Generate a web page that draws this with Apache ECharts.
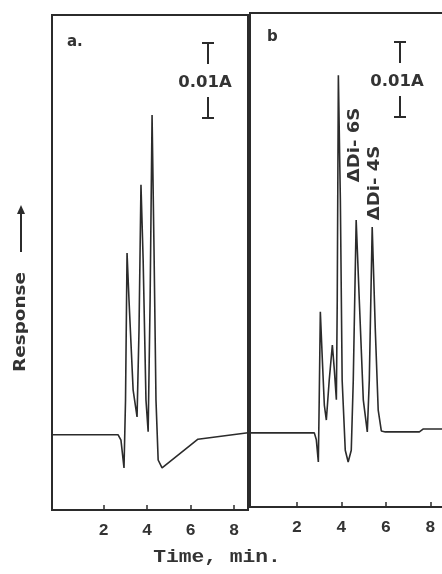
<!DOCTYPE html>
<html>
<head>
<meta charset="utf-8">
<script src="https://cdn.jsdelivr.net/npm/echarts@6/dist/echarts.min.js"></script>
<style>
  html, body { margin: 0; padding: 0; background: #fff; }
  #main { width: 442px; height: 574px; }
</style>
</head>
<body>
<div id="main"></div>
<script>
// trace a: time (min), response (arbitrary, 0-100 of panel height)
var timeA = [-0.37, 2.67, 2.80, 2.94, 3.01, 3.08, 3.17, 3.36, 3.54, 3.63, 3.72, 3.82, 3.95, 4.05, 4.14, 4.23, 4.32, 4.41, 4.51, 4.69, 6.34, 8.64];
var respA = [15.2, 15.2, 14.1, 8.5, 22.2, 51.9, 42.4, 24.2, 18.8, 36.4, 65.7, 50.5, 22.2, 15.8, 42.4, 79.8, 52.5, 22.2, 10.1, 8.5, 14.3, 15.6];

// trace b
var timeB = [-0.1, 2.79, 2.88, 2.97, 3.01, 3.06, 3.15, 3.24, 3.33, 3.46, 3.60, 3.69, 3.78, 3.82, 3.87, 3.96, 4.04, 4.18, 4.31, 4.45, 4.54, 4.67, 4.81, 4.99, 5.17, 5.26, 5.39, 5.53, 5.66, 5.80, 5.98, 7.51, 7.69, 8.9];
var respB = [15.0, 15.0, 13.6, 9.1, 21.7, 39.5, 29.8, 20.6, 17.6, 25.7, 32.8, 27.7, 21.7, 41.9, 87.4, 62.1, 25.7, 11.5, 9.1, 11.5, 25.7, 58.1, 41.9, 21.7, 15.2, 25.7, 56.7, 35.8, 19.6, 15.4, 15.2, 15.2, 15.8, 15.8];

var tickValues = [2, 4, 6, 8];

function pairs(xs, ys) {
  return xs.map(function (x, i) { return [x, ys[i]]; });
}

var ink = "#2b2b2b";
var myChart = echarts.init(document.getElementById("main"));

function xAxisFor(idx, min, max) {
  return {
    type: "value",
    gridIndex: idx,
    min: min,
    max: max,
    axisLine: { show: false },
    splitLine: { show: false },
    axisTick: {
      show: true,
      inside: true,
      length: 5,
      customValues: tickValues,
      lineStyle: { color: ink, width: 1.5 }
    },
    axisLabel: {
      customValues: tickValues,
      margin: 12,
      color: "#333",
      fontFamily: "Liberation Mono",
      fontWeight: "bold",
      fontSize: 17
    }
  };
}

function yAxisFor(idx) {
  return {
    type: "value",
    gridIndex: idx,
    min: 0,
    max: 100,
    axisLine: { show: false },
    axisTick: { show: false },
    axisLabel: { show: false },
    splitLine: { show: false }
  };
}

function bar(x, yTop, yBot) {
  // scale bar "0.01A": T on top, inverted T below
  return [
    { type: "line", shape: { x1: x - 6, y1: yTop, x2: x + 6, y2: yTop }, style: { stroke: ink, lineWidth: 2 } },
    { type: "line", shape: { x1: x, y1: yTop, x2: x, y2: yTop + 21 }, style: { stroke: ink, lineWidth: 2 } },
    { type: "line", shape: { x1: x, y1: yBot - 21, x2: x, y2: yBot }, style: { stroke: ink, lineWidth: 2 } },
    { type: "line", shape: { x1: x - 6, y1: yBot, x2: x + 6, y2: yBot }, style: { stroke: ink, lineWidth: 2 } }
  ];
}

var labelFont = { fill: "#333", fontFamily: "DejaVu Sans", fontWeight: "bold" };

var graphics = [].concat(
  bar(208, 43, 118),
  bar(400, 42, 117),
  [
    { type: "text", x: 205, y: 83, scaleX: 1.1, style: Object.assign({ text: "0.01A", fontSize: 15, align: "center", verticalAlign: "middle" }, labelFont) },
    { type: "text", x: 397, y: 82, scaleX: 1.1, style: Object.assign({ text: "0.01A", fontSize: 15, align: "center", verticalAlign: "middle" }, labelFont) },
    { type: "text", x: 67, y: 42, style: Object.assign({ text: "a.", fontSize: 15, verticalAlign: "middle" }, labelFont) },
    { type: "text", x: 267, y: 37, style: Object.assign({ text: "b", fontSize: 15, verticalAlign: "middle" }, labelFont) },
    { type: "text", x: 355, y: 145, rotation: Math.PI / 2, scaleX: 1.2, style: Object.assign({ text: "ΔDi- 6S", fontSize: 15, align: "center", verticalAlign: "middle" }, labelFont) },
    { type: "text", x: 375, y: 183, rotation: Math.PI / 2, scaleX: 1.2, style: Object.assign({ text: "ΔDi- 4S", fontSize: 15, align: "center", verticalAlign: "middle" }, labelFont) },
    { type: "text", x: 21, y: 322, rotation: Math.PI / 2, scaleX: 1.15, style: Object.assign({ text: "Response", fontSize: 16, align: "center", verticalAlign: "middle" }, labelFont) },
    { type: "line", shape: { x1: 21, y1: 252, x2: 21, y2: 212 }, style: { stroke: ink, lineWidth: 2 } },
    { type: "polygon", shape: { points: [[17, 214], [25, 214], [21, 205]] }, style: { fill: ink } },
    { type: "text", x: 217, y: 557, scaleX: 1.12, style: { text: "Time, min.", fill: "#333", fontFamily: "Liberation Mono", fontWeight: "bold", fontSize: 19, align: "center", verticalAlign: "middle" } }
  ]
);

myChart.setOption({
  animation: false,
  backgroundColor: "#fff",
  grid: [
    { left: 52, top: 15, width: 196, bottom: 64, show: true, borderColor: ink, borderWidth: 2, outerBoundsMode: "none" },
    { left: 250, top: 13, width: 207, bottom: 67, show: true, borderColor: ink, borderWidth: 2, outerBoundsMode: "none" }
  ],
  xAxis: [xAxisFor(0, -0.37, 8.64), xAxisFor(1, -0.1, 9.2)],
  yAxis: [yAxisFor(0), yAxisFor(1)],
  series: [
    {
      type: "line",
      xAxisIndex: 0,
      yAxisIndex: 0,
      data: pairs(timeA, respA),
      showSymbol: false,
      lineStyle: { color: ink, width: 1.6 }
    },
    {
      type: "line",
      xAxisIndex: 1,
      yAxisIndex: 1,
      data: pairs(timeB, respB),
      showSymbol: false,
      lineStyle: { color: ink, width: 1.6 }
    }
  ],
  graphic: graphics
});
</script>
</body>
</html>
